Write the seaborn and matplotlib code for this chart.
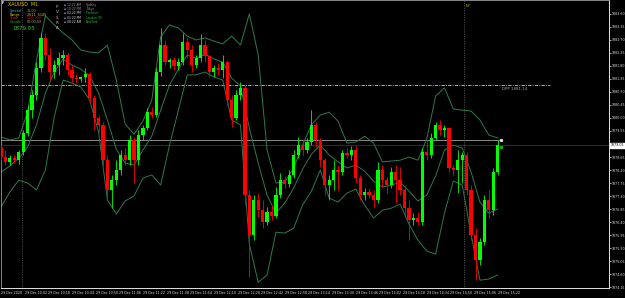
import numpy as np
import matplotlib
matplotlib.use("Agg")
import matplotlib.pyplot as plt
import seaborn as sns

sns.set_style("dark")
plt.rcParams['font.family'] = ['DejaVu Sans']

# ---------------- data (XAUUSD, 29 Dec 2020, minutes since midnight) ----------------
start_minute = 586          # 09:46
candle_step = 3             # minutes per drawn candle

opens = [1878.99, 1878.65, 1878.48, 1878.61, 1878.54, 1878.82, 1879.48, 1880.27, 1880.79, 1881.73,
         1882.77, 1882.18, 1881.59, 1881.83, 1882.07, 1882.18, 1881.66, 1881.38, 1881.35, 1881.42,
         1881.52, 1880.69, 1880.00, 1879.76, 1878.54, 1877.51, 1877.85, 1878.20, 1878.72, 1878.54,
         1879.24, 1878.54, 1879.41, 1879.65, 1880.20, 1880.10, 1881.59, 1882.52, 1881.93, 1882.00,
         1881.80, 1881.93, 1882.63, 1882.35, 1881.83, 1882.07, 1882.52, 1882.14, 1881.59, 1881.73,
         1881.66, 1881.93, 1880.62, 1880.00, 1880.79, 1881.04, 1877.33, 1875.95, 1877.16, 1876.81,
         1876.40, 1876.75, 1876.61, 1877.33, 1877.85, 1877.71, 1878.03, 1878.72, 1879.06, 1878.89,
         1879.17, 1879.76, 1879.24, 1878.54, 1877.68, 1877.85, 1878.20, 1878.13, 1878.79, 1878.72,
         1878.89, 1877.92, 1877.33, 1877.44, 1877.33, 1877.16, 1878.20, 1877.85, 1877.68, 1878.13,
         1877.85, 1877.51, 1876.88, 1876.47, 1876.54, 1876.40, 1878.82, 1878.72, 1879.31, 1879.76,
         1879.58, 1879.65, 1878.27, 1878.20, 1878.54, 1878.72, 1877.51, 1875.95, 1875.08, 1875.71,
         1877.16, 1876.81, 1878.13]
highs = [1879.06, 1878.89, 1878.72, 1878.72, 1878.89, 1879.58, 1880.45, 1880.97, 1881.93, 1882.94,
         1882.94, 1882.42, 1882.00, 1882.28, 1882.35, 1882.25, 1881.83, 1881.52, 1881.45, 1881.73,
         1881.59, 1880.79, 1880.10, 1879.86, 1878.72, 1878.03, 1878.54, 1878.89, 1878.96, 1879.41,
         1879.34, 1879.58, 1879.76, 1880.34, 1880.38, 1881.73, 1883.11, 1882.70, 1882.07, 1882.11,
         1882.07, 1882.94, 1882.77, 1882.52, 1882.18, 1882.90, 1882.70, 1882.18, 1881.83, 1881.90,
         1882.18, 1882.00, 1880.79, 1880.97, 1881.24, 1881.14, 1877.51, 1877.33, 1877.40, 1877.16,
         1876.92, 1876.99, 1877.61, 1878.09, 1877.99, 1878.20, 1878.89, 1879.34, 1879.24, 1879.31,
         1880.27, 1879.86, 1879.31, 1878.61, 1878.03, 1878.54, 1878.37, 1878.89, 1878.96, 1879.03,
         1879.03, 1878.03, 1877.58, 1877.58, 1877.51, 1878.48, 1878.37, 1877.96, 1878.30, 1878.37,
         1878.30, 1877.68, 1877.16, 1876.71, 1876.75, 1878.96, 1879.24, 1879.48, 1879.86, 1879.93,
         1879.76, 1879.69, 1878.37, 1878.89, 1878.82, 1878.82, 1877.68, 1876.19, 1875.85, 1877.33,
         1877.51, 1878.27, 1879.24]
lows = [1878.54, 1878.37, 1878.37, 1878.44, 1878.41, 1878.72, 1879.37, 1880.00, 1880.62, 1881.59,
        1882.00, 1881.31, 1881.38, 1881.49, 1881.83, 1881.49, 1881.24, 1881.21, 1881.24, 1881.24,
        1880.52, 1879.58, 1879.51, 1878.37, 1877.16, 1876.88, 1877.68, 1878.03, 1878.37, 1878.37,
        1877.75, 1878.37, 1879.24, 1879.58, 1880.00, 1880.03, 1881.45, 1881.83, 1881.73, 1881.66,
        1881.66, 1881.83, 1882.07, 1881.59, 1881.73, 1881.93, 1881.93, 1881.42, 1881.42, 1881.49,
        1881.38, 1880.45, 1879.69, 1879.93, 1880.62, 1876.99, 1874.50, 1875.78, 1876.57, 1876.19,
        1876.30, 1876.47, 1876.54, 1877.23, 1877.58, 1877.61, 1877.92, 1878.61, 1878.72, 1878.79,
        1879.06, 1878.99, 1878.30, 1877.33, 1877.16, 1877.51, 1877.51, 1878.03, 1878.61, 1878.54,
        1877.75, 1877.16, 1877.16, 1877.23, 1876.92, 1877.06, 1877.61, 1877.40, 1877.58, 1877.06,
        1877.33, 1876.64, 1875.78, 1876.30, 1876.30, 1876.30, 1878.54, 1878.61, 1879.24, 1879.41,
        1879.34, 1878.13, 1878.03, 1877.40, 1877.75, 1877.33, 1875.78, 1874.39, 1874.91, 1875.60,
        1876.54, 1876.64, 1878.03]
closes = [1878.65, 1878.48, 1878.61, 1878.54, 1878.82, 1879.48, 1880.27, 1880.79, 1881.73, 1882.77,
          1882.18, 1881.59, 1881.83, 1882.07, 1882.18, 1881.66, 1881.38, 1881.35, 1881.42, 1881.52,
          1880.69, 1880.00, 1879.76, 1878.54, 1877.51, 1877.85, 1878.20, 1878.72, 1878.54, 1879.24,
          1878.54, 1879.41, 1879.65, 1880.20, 1880.10, 1881.59, 1882.52, 1881.93, 1882.00, 1881.80,
          1881.93, 1882.63, 1882.35, 1881.83, 1882.07, 1882.52, 1882.14, 1881.59, 1881.73, 1881.66,
          1881.93, 1880.62, 1880.00, 1880.79, 1881.04, 1877.33, 1875.95, 1877.16, 1876.81, 1876.40,
          1876.75, 1876.61, 1877.33, 1877.85, 1877.71, 1878.03, 1878.72, 1879.06, 1878.89, 1879.17,
          1879.76, 1879.24, 1878.54, 1877.68, 1877.85, 1878.20, 1878.13, 1878.79, 1878.72, 1878.89,
          1877.92, 1877.33, 1877.44, 1877.33, 1877.16, 1878.20, 1877.85, 1877.68, 1878.13, 1877.85,
          1877.51, 1876.88, 1876.47, 1876.54, 1876.40, 1878.82, 1878.72, 1879.31, 1879.76, 1879.58,
          1879.65, 1878.27, 1878.20, 1878.54, 1878.72, 1877.51, 1875.95, 1875.08, 1875.71, 1877.16,
          1876.81, 1878.13, 1879.06]

band_step = 6  # minutes between band samples (Bollinger 20, 2)
band_upper = [1879.34, 1879.24, 1879.31, 1880.20, 1882.00, 1883.53, 1883.22, 1882.94, 1882.70, 1882.35,
              1882.28, 1882.25, 1882.52, 1881.31, 1879.79, 1879.44, 1879.89, 1880.62, 1882.80, 1883.22,
              1883.11, 1882.83, 1882.70, 1882.77, 1882.66, 1882.56, 1882.83, 1882.52, 1883.60, 1882.18,
              1878.89, 1877.75, 1877.78, 1878.27, 1879.06, 1879.76, 1880.10, 1880.20, 1879.89, 1879.13,
              1879.17, 1879.37, 1879.13, 1878.48, 1878.51, 1878.54, 1878.65, 1878.54, 1879.27, 1880.76,
              1881.04, 1880.31, 1880.27, 1880.24, 1879.93, 1879.41, 1879.31]
band_middle = [1878.13, 1878.34, 1878.61, 1878.99, 1879.76, 1880.86, 1881.59, 1882.04, 1881.83, 1881.69,
               1881.45, 1880.86, 1879.93, 1878.92, 1878.44, 1878.37, 1878.89, 1879.37, 1880.27, 1881.14,
               1881.69, 1882.18, 1882.07, 1882.21, 1882.04, 1881.93, 1881.38, 1881.10, 1879.65, 1878.44,
               1877.33, 1876.71, 1877.06, 1877.58, 1878.23, 1878.75, 1879.06, 1878.72, 1878.48, 1878.27,
               1878.37, 1878.16, 1877.82, 1877.61, 1877.68, 1877.78, 1877.47, 1877.13, 1877.33, 1877.99,
               1878.89, 1879.06, 1878.96, 1878.13, 1877.09, 1876.71, 1876.85]
band_lower = [1876.92, 1877.44, 1877.85, 1877.75, 1877.51, 1878.20, 1880.03, 1881.31, 1881.21, 1881.07,
              1880.62, 1879.51, 1877.16, 1876.68, 1877.13, 1877.30, 1877.92, 1878.03, 1877.68, 1879.06,
              1880.27, 1881.49, 1881.49, 1881.59, 1881.42, 1881.31, 1879.93, 1879.76, 1875.64, 1874.32,
              1874.57, 1876.05, 1876.02, 1876.19, 1876.99, 1877.47, 1878.20, 1877.23, 1877.09, 1877.40,
              1877.54, 1876.99, 1876.54, 1876.81, 1876.88, 1877.02, 1876.33, 1875.78, 1875.40, 1875.29,
              1876.71, 1877.82, 1877.68, 1875.98, 1874.39, 1874.43, 1874.57]

price_ticks = [1883.60, 1883.15, 1882.70, 1882.25, 1881.80, 1881.35, 1880.90, 1880.45, 1880.00,
               1879.55, 1878.65, 1878.20, 1877.75, 1877.30, 1876.85, 1876.40, 1875.95,
               1875.50, 1875.05, 1874.60, 1874.15]
time_tick_labels = ["29 Dec 2020", "29 Dec 10:02", "29 Dec 10:18", "29 Dec 10:34", "29 Dec 10:50",
                    "29 Dec 11:06", "29 Dec 11:22", "29 Dec 11:38", "29 Dec 11:54", "29 Dec 12:10",
                    "29 Dec 12:26", "29 Dec 12:42", "29 Dec 12:58", "29 Dec 13:14", "29 Dec 13:30",
                    "29 Dec 13:46", "29 Dec 14:02", "29 Dec 14:18", "29 Dec 14:34", "29 Dec 14:50",
                    "29 Dec 15:06", "29 Dec 15:22"]
time_tick_step = 16

bid_price = 1879.05
ask_price = 1879.23
dpp_price = 1881.14
session_marks = [600, 899]   # 10:00 and 14:59

info_labels = ["Spread", "Range", "Score", "Candle"]
info_values = ["11.00", "2611  5145", "0.00:218", "00:00:59"]
session_times = ["12:22 AM", "10:22 PM", "02:22 PM", "01:22 PM", "08:22 AM"]
session_names = ["Sydney", "Tokyo", "Frankfurt", "London (O)", "NewYork"]

# ---------------- figure ----------------
W, H = 625, 298
fig = plt.figure(figsize=(W / 100, H / 100), dpi=100, facecolor="black")
ax = fig.add_axes([1 / W, 10 / H, 608 / W, 288 / H])
ax.set_facecolor("black")

o = np.array(opens); h = np.array(highs); l = np.array(lows); c = np.array(closes)
t = start_minute + candle_step * np.arange(len(c))
bull, bear = "#00FF00", "#FF0000"
cols = np.where(c >= o, bull, bear)

# Bollinger bands
bt = start_minute + band_step * np.arange(len(band_upper))
band_col = "#2F7A4A"
for band in (band_upper, band_middle, band_lower):
    sns.lineplot(x=bt, y=band, ax=ax, color=band_col, lw=0.7, zorder=2)

# reference lines
ax.axhline(dpp_price, xmax=0.903, color="#C8C8C8", lw=0.6, ls=(0, (4, 1.5, 1, 1.5)), zorder=1)
ax.axhline(ask_price, xmax=0.82, color="#8A8A8A", lw=0.7, zorder=1)
ax.axhline(bid_price, color="#1A1AB0", lw=0.7, zorder=1)
for sm in session_marks:
    ax.axvline(sm, color="#808080", lw=0.5, ls=(0, (1, 1.5)), zorder=1)

# candles
ax.vlines(t, l, h, colors=cols, lw=0.6, zorder=3)
body = np.maximum(np.abs(c - o), 0.02)
ax.bar(t, body, bottom=np.minimum(o, c), width=2.2, color=cols, linewidth=0, zorder=4)

# markers at last bar
ax.plot([t[-1] + 2.5], [ask_price], marker="s", ms=1.2, color="#DDDDDD", lw=0, zorder=5)
ax.plot([t[-1] + 2.5], [bid_price - 0.05], marker="s", ms=1.2, color="#00C000", lw=0, zorder=5)

ax.set_xlim(586.5, 997.3)
ax.set_ylim(1874.12, 1884.08)

# axes styling
for side in ("left", "top"):
    ax.spines[side].set_color("#9A9A9A"); ax.spines[side].set_linewidth(0.6)
for side in ("right", "bottom"):
    ax.spines[side].set_color("#E0E0E0"); ax.spines[side].set_linewidth(0.7)
ax.grid(False)
ax.yaxis.tick_right()
ax.set_yticks(price_ticks)
ax.set_yticklabels([f"{p:.2f}" for p in price_ticks])
xt = [start_minute + time_tick_step * k for k in range(len(time_tick_labels))]
ax.set_xticks(xt)
ax.set_xticklabels(time_tick_labels)
ax.tick_params(axis="y", colors="#E0E0E0", labelsize=2.3, length=1.2, width=0.5, pad=0.6, labelcolor="#E0E0E0")
ax.tick_params(axis="x", colors="#E0E0E0", labelsize=2.3, length=1.5, width=0.5, pad=1, labelcolor="#E0E0E0")
for lab in ax.get_xticklabels():
    lab.set_horizontalalignment("left")
ax.set_xlabel(""); ax.set_ylabel("")

# current price box on the scale
ax.text(1.0025, bid_price, f"{bid_price:.2f}", transform=ax.get_yaxis_transform(), fontsize=2.3,
        color="black", va="center", ha="left",
        bbox=dict(facecolor="white", edgecolor="white", pad=0.3), zorder=6, clip_on=False)

# DPP label
ax.text(942, dpp_price - 0.06, f"DPP {dpp_price:.2f}", fontsize=2.8, color="#A8A8A8",
        ha="right", va="top", zorder=6)
ax.text(session_marks[1] + 1, 1883.95, "NY", fontsize=2.6, color="#9ACD32", ha="left", va="top")


def ftext(x, y, s, **kw):
    fig.text(x / W, 1 - y / H, s, va="center", **kw)


# info panel
ftext(1.5, 3.5, "F", fontsize=2.4, color="white", weight="bold")
ftext(8, 5, "XAUUSD  M1", fontsize=3.4, color="#E8C800")
info_cols = ["#20C8E0", "#E8D000", "#E02020", "#20C020"]
info_vcols = ["#20C8E0", "#C8C060", "#B01818", "#A0A0A0"]
for k, (lab, val) in enumerate(zip(info_labels, info_values)):
    ftext(10, 11 + 3.7 * k, lab, fontsize=2.4, color=info_cols[k])
    ftext(27, 11 + 3.7 * k, val, fontsize=2.4, color=info_vcols[k])
ftext(12.5, 28.5, f"{bid_price:.2f}", fontsize=4.0, color="#3CC83C")
for k, ch in enumerate("PVSRA"):
    ftext(57, 7 + 5.3 * k, ch, fontsize=3.0, color="#D8A8B0", ha="center")
name_cols = ["#9A9A9A", "#9A9A9A", "#20C020", "#20C020", "#20C020"]
time_cols = ["#9A9A9A", "#9A9A9A", "#D8D8D8", "#D8D8D8", "#D8D8D8"]
for k, (tm, nm) in enumerate(zip(session_times, session_names)):
    yy = 5 + 4.2 * k
    ftext(64, yy, "\u25aa", fontsize=2.2, color="#7090C0")
    ftext(67, yy, tm, fontsize=2.2, color=time_cols[k])
    ftext(86, yy, nm, fontsize=2.2, color=name_cols[k])

fig.savefig("out.png", dpi=100, facecolor="black")
